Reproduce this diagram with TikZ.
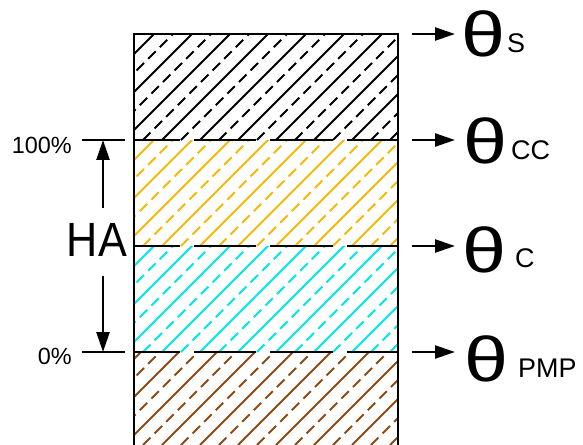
\documentclass[tikz,border=0pt]{standalone}
\usepackage{fontspec}
\setmainfont{Liberation Sans}
\usetikzlibrary{arrows.meta}

\definecolor{layorange}{RGB}{245,185,10}
\definecolor{laycyan}{RGB}{0,232,232}
\definecolor{laybrown}{RGB}{140,75,20}

\tikzset{
  hatch/.style={line width=1.7pt},
  hatchdash/.style={hatch, dash pattern=on 9pt off 5pt},
  border/.style={line width=2.5pt},
  bound/.style={line width=2.2pt, dash pattern=on 53.5pt off 12pt, dash phase=14.5pt},
  arr/.style={line width=2.2pt, -{Triangle[length=17pt,width=11pt]}},
  pct/.style={font=\fontsize{20}{20}\selectfont, anchor=east, inner sep=0pt},
  thet/.style={font=\fontsize{54}{54}\selectfont, xscale=1.25, inner sep=0pt},
  sub/.style={font=\fontsize{23}{23}\selectfont, anchor=base west, inner sep=0pt}
}

% one hatched layer: colour, top, bottom
\newcommand{\hatchband}[3]{%
  \begin{scope}
    \clip (134,#2) rectangle (398,#3);
    \foreach \k in {0,...,21} {
      \ifodd\k
        \draw[#1, hatchdash] (10+\k*19,#3) -- ++(130,-130);
      \else
        \draw[#1, hatch] (10+\k*19,#3) -- ++(130,-130);
      \fi
    }
  \end{scope}}

\begin{document}
\begin{tikzpicture}[x=0.03cm, y=-0.03cm]
  \useasboundingbox (0,0) rectangle (583,445);

  % layers
  \hatchband{black}{34}{140}
  \hatchband{layorange}{140}{246}
  \hatchband{laycyan}{246}{352}
  \hatchband{laybrown}{352}{445}

  % column
  \draw[border] (134,445) -- (134,34) -- (398,34) -- (398,445);
  \foreach \y in {140,246,352}
    \draw[bound] (134,\y) -- (398,\y);

  % left scale
  \coordinate (t100a) at (82,140);
  \coordinate (t100b) at (125,140);
  \coordinate (t0a) at (82,352);
  \coordinate (t0b) at (125,352);
  \coordinate (t100) at (103,140);
  \coordinate (t0) at (103,352);
  \coordinate (upst) at (103,208);
  \coordinate (dnst) at (103,276);
  \draw[border] (t100a) -- (t100b);
  \draw[border] (t0a) -- (t0b);
  \draw[arr] (upst) -- (t100);
  \draw[arr] (dnst) -- (t0);
  \node[pct] (p100) at (72,145) {100\%};
  \node[pct] (p0) at (72,356) {0\%};
  \node[font=\fontsize{41}{41}\selectfont, xscale=0.9, inner sep=0pt] (ha) at (97,240) {HA};

  % right labels
  \foreach \y/\nm in {34/s,140/cc,246/c,352/pmp} {
    \coordinate (a\nm) at (412,\y);
    \coordinate (b\nm) at (455,\y);
    \draw[arr] (a\nm) -- (b\nm);
  }
  \node[thet] (ths) at (483,34) {θ};
  \node[thet] (thcc) at (485,141) {θ};
  \node[thet] (thc) at (484,250) {θ};
  \node[thet] (thpmp) at (486,359) {θ};
  \node[sub] (ss) at (507,52) {S};
  \node[sub] (scc) at (511,159) {CC};
  \node[sub] (sc) at (515,267) {C};
  \node[sub] (spmp) at (518,377) {PMP};
\end{tikzpicture}
\end{document}
